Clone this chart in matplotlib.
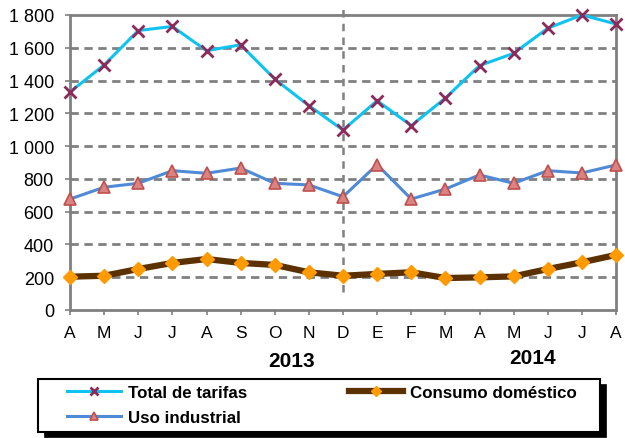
import matplotlib
matplotlib.use("Agg")
import matplotlib.pyplot as plt
from matplotlib.patches import Rectangle

plt.rcParams['font.family'] = ['Liberation Sans', 'DejaVu Sans']

months = ["A", "M", "J", "J", "A", "S", "O", "N", "D", "E", "F", "M", "A", "M", "J", "J", "A"]
total_tarifas = [1330, 1495, 1705, 1730, 1582, 1618, 1409, 1247, 1098, 1277, 1125, 1293, 1491, 1566, 1719, 1800, 1745]
uso_industrial = [677, 749, 773, 850, 834, 866, 773, 763, 691, 887, 677, 738, 824, 773, 850, 836, 885]
consumo_domestico = [203, 209, 250, 287, 311, 287, 275, 230, 209, 220, 230, 195, 199, 205, 250, 291, 336]
years = ["2013", "2014"]
year_split = 8  # index of D, where the year changes

W, H = 625, 439


def px(x, y):
    # pixel position (from top left) -> figure fraction
    return x / W, (H - y) / H


def main():
    fig = plt.figure(figsize=(6.25, 4.39), dpi=100)
    ax = fig.add_axes([0.112, 0.2916, 0.8736, 0.672])
    x = list(range(len(months)))

    l_total, = ax.plot(x, total_tarifas, color="#0FC3F0", lw=2.2, marker="x",
                       ms=8, mew=2, mec="#8E2A5A", clip_on=False, zorder=5)
    l_ind, = ax.plot(x, uso_industrial, color="#4E8AD6", lw=2.2, marker="^",
                     ms=9, mfc="#D98382", mec="#C0504D", mew=1.2, clip_on=False, zorder=5)
    l_dom, = ax.plot(x, consumo_domestico, color="#5C3100", lw=4.5, marker="D",
                     ms=7.5, mfc="#FF9A00", mec="#FF9A00", clip_on=False, zorder=5)

    ax.set_xlim(0, len(months) - 1)
    ax.set_ylim(0, 1800)
    ax.set_yticks(range(0, 1801, 200))
    ax.set_yticklabels([f"{v:,}".replace(",", " ") for v in range(0, 1801, 200)])
    ax.set_xticks(x)
    ax.set_xticklabels(months)
    ax.tick_params(axis="both", colors="#808080", labelcolor="black", width=1.2)
    ax.tick_params(axis="y", length=3.6, pad=8, labelsize=13)
    ax.tick_params(axis="x", length=3.6, pad=7, labelsize=12.5)

    for v in range(200, 1800, 200):
        ax.axhline(v, color="#808080", lw=2, ls=(0, (3, 2)), zorder=1)
    for s in ax.spines.values():
        s.set_color("#808080")
        s.set_linewidth(2)

    ax.plot([year_split, year_split], [110, 1845], color="#808080", lw=1.8,
            ls=(0, (3, 2.5)), clip_on=False, zorder=2)

    fig.text(*px(292, 362), years[0], ha="center", va="center", fontsize=15, fontweight="bold")
    fig.text(*px(533, 359), years[1], ha="center", va="center", fontsize=15, fontweight="bold")

    # legend box with shadow
    x0, y0, x1, y1 = 38, 380, 600, 433
    fig.patches.append(Rectangle(px(x0 + 6, y1 + 5), (x1 - x0) / W, (y1 - y0) / H,
                                 transform=fig.transFigure, facecolor="#000000",
                                 edgecolor="#000000", linewidth=0.5))
    fig.patches.append(Rectangle(px(x0, y1), (x1 - x0) / W, (y1 - y0) / H,
                                 transform=fig.transFigure, facecolor="white",
                                 edgecolor="black", linewidth=1.5))

    fig.legend([l_total, l_ind, l_dom], ["Total de tarifas", "Uso industrial", "Consumo doméstico"],
               ncol=2, loc="upper left", bbox_to_anchor=px(67, 386),
               bbox_transform=fig.transFigure, frameon=False,
               prop={"weight": "bold", "size": 12.2}, handlelength=3.2,
               handletextpad=0.4, labelspacing=0.6, columnspacing=6.0,
               borderpad=0, borderaxespad=0, markerscale=0.7)

    fig.savefig("out.png", dpi=100)


if __name__ == "__main__":
    main()
